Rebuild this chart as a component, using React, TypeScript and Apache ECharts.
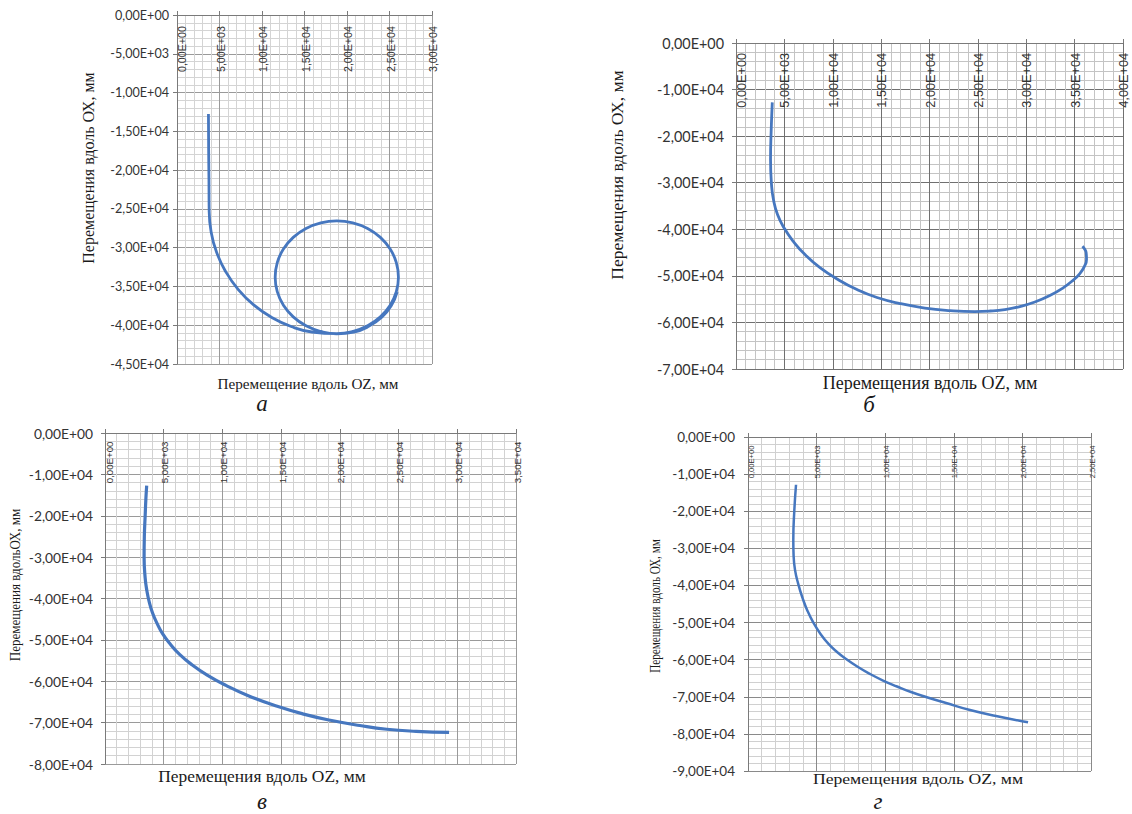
import React, { useEffect, useRef } from "react";
import * as echarts from "echarts";

// ---- Data: displacement along OZ (mm) and along OX (mm) ----
// (а) trajectory ending in a loop
const ozA = [3700, 3723, 3759, 3782, 4007, 4657, 5745, 7210, 9019, 11111, 13428, 15886, 18800,
  20678, 22425, 23926, 25079, 25804, 26050, 25804, 25079, 23926, 22425, 20678, 18800, 16922, 15175, 13674, 12521, 11796, 11550, 11796, 12521, 13674, 15175, 16922,
  18800, 20800, 22550, 24050, 25200, 25900];
const oxA = [-12761, -17402, -21269, -25136, -27920, -30601, -33127, -35408, -37381, -38980, -40165, -40874, -41080,
  -40804, -40079, -38926, -37425, -35678, -33800, -31922, -30175, -28674, -27521, -26796, -26550, -26796, -27521, -28674, -30175, -31922, -33800, -35678, -37425, -38926, -40079, -40804,
  -41100, -40880, -40150, -39000, -37500, -35700];

// (б)
const ozB = [3750, 3640, 3570, 3670, 3870, 4290, 5010, 5940, 7130, 8680, 10540, 12500, 14570, 16940, 19520, 22110, 24690,
  26240, 27790, 29340, 30890, 32440, 33780, 34810, 35540, 36000, 36230, 36190, 36030, 35810];
const oxB = [-12750, -18600, -25040, -30410, -33620, -36840, -39850, -42640, -45430, -48220, -50790, -52940, -54650, -55940, -56910, -57450, -57660,
  -57550, -57230, -56590, -55620, -54230, -52620, -51010, -49510, -48010, -46500, -45000, -44250, -43650];

// (в)
const ozC = [3550, 3480, 3420, 3350, 3330, 3420, 3560, 3780, 4050, 4430, 4900, 5550, 6350, 7400, 8700, 10300, 12200, 14600, 17000, 19300, 21700, 24000, 26500, 29300];
const oxC = [-12700, -16000, -20000, -25000, -30000, -35000, -38000, -41000, -43500, -46000, -48500, -51000, -53500, -56000, -58500, -61000, -63500, -66000, -68000, -69500, -70700, -71600, -72100, -72350];

// (г)
const ozD = [3500, 3375, 3302, 3324, 3426, 3660, 3973, 4338, 4775, 5285, 5868, 6488, 7181, 8019, 8894, 9842, 10862, 11883, 12976, 14434, 16184, 18079, 20412];
const oxD = [-12870, -19880, -27710, -32030, -35800, -39580, -43360, -46870, -50100, -53070, -55770, -57930, -59900, -61980, -63860, -65620, -67230, -68720, -70070, -71690, -73580, -75190, -76890];

// Axis extents and tick labels (OZ axis, shown at the top)
const xTicksA = [0, 5000, 10000, 15000, 20000, 25000, 30000];
const xTicksB = [0, 5000, 10000, 15000, 20000, 25000, 30000, 35000, 40000];
const xTicksC = [0, 5000, 10000, 15000, 20000, 25000, 30000, 35000];
const xTicksD = [0, 5000, 10000, 15000, 20000, 25000];
const yMins = [-45000, -70000, -80000, -90000];
const yIntervals = [5000, 10000, 10000, 10000];

const xTitles = ["Перемещение вдоль OZ, мм", "Перемещения вдоль OZ, мм", "Перемещения вдоль OZ, мм", "Перемещения вдоль OZ, мм"];
const yTitles = ["Перемещения вдоль ОХ, мм", "Перемещения вдоль ОХ, мм", "Перемещения вдольОХ, мм", "Перемещения вдоль ОХ, мм"];
const panelLetters = ["а", "б", "в", "г"];

function fmtE(v: number): string {
  if (v === 0) return "0,00E+00";
  const s = v.toExponential(2);
  const [m, e] = s.split("e");
  const sign = e[0] === "-" ? "-" : "+";
  const ex = Math.abs(parseInt(e, 10)).toString().padStart(2, "0");
  return m.replace(".", ",") + "E" + sign + ex;
}

const zip = (a: number[], b: number[]) => a.map((v, i) => [v, b[i]]);

export default function App() {
  const ref = useRef<HTMLDivElement>(null);
  useEffect(() => {
    if (!ref.current) return;
    const chart = echarts.init(ref.current, undefined, { renderer: "svg" });

    const grids = [
      { left: 177, top: 15, width: 255, height: 349 },
      { left: 736, top: 43, width: 387, height: 326 },
      { left: 105, top: 433, width: 411, height: 331 },
      { left: 748, top: 437, width: 343, height: 334 },
    ];
    const xTicks = [xTicksA, xTicksB, xTicksC, xTicksD];
    const yLabelSize = [12.6, 14.4, 13.8, 13.5];
    const yLabelMargin = [8, 12, 12, 13];
    const xLabelSize = [10.7, 12.7, 9.7, 7.6];
    const xLabelMargin = [11, 10, 8.5, 8.5];
    const majorCol = ["#9a9a9a", "#707070", "#9a9a9a", "#8a8a8a"];
    const minorCol = ["#d4d4d4", "#c4c4c4", "#d2d2d2", "#d0d0d0"];
    const lineW = [2.8, 2.8, 3.2, 2.5];
    const dataSets = [zip(ozA, oxA), zip(ozB, oxB), zip(ozC, oxC), zip(ozD, oxD)];

    const txt = (x: number, y: number, text: string, font: string, extra: any = {}, va = "middle", al = "center", fill = "#1a1a1a") => ({
      type: "text",
      x,
      y,
      ...extra,
      style: { text, font, fill, align: al, verticalAlign: va },
    });

    const option: any = {
      animation: false,
      backgroundColor: "#ffffff",
      grid: grids.map((g) => ({ ...g, containLabel: false, outerBoundsMode: "none" })),
      xAxis: grids.map((_, i) => {
        const t = xTicks[i];
        return {
          type: "value",
          gridIndex: i,
          position: "top",
          min: t[0],
          max: t[t.length - 1],
          interval: t[1] - t[0],
          axisLine: { show: true, onZero: false, lineStyle: { color: "#7a7a7a", width: 1 } },
          axisTick: { show: true, inside: false, length: 4, lineStyle: { color: "#7a7a7a" } },
          axisLabel: { show: false },
          splitLine: { show: true, lineStyle: { color: majorCol[i], width: 1 } },
          minorTick: { show: false, splitNumber: 5 },
          minorSplitLine: { show: true, lineStyle: { color: minorCol[i], width: 1 } },
        };
      }),
      yAxis: grids.map((_, i) => ({
        type: "value",
        gridIndex: i,
        min: yMins[i],
        max: 0,
        interval: yIntervals[i],
        axisLine: { show: true, onZero: false, lineStyle: { color: "#7a7a7a", width: 1 } },
        axisTick: { show: true, inside: false, length: 4, lineStyle: { color: "#7a7a7a" } },
        axisLabel: {
          margin: yLabelMargin[i],
          formatter: fmtE,
          fontFamily: "Lato",
          fontSize: yLabelSize[i],
          color: "#333",
        },
        splitLine: { show: true, lineStyle: { color: majorCol[i], width: 1 } },
        minorTick: { show: false, splitNumber: 5 },
        minorSplitLine: { show: true, lineStyle: { color: minorCol[i], width: 1 } },
      })),
      series: dataSets.map((d, i) => ({
        type: "line",
        xAxisIndex: i,
        yAxisIndex: i,
        data: d,
        showSymbol: false,
        smooth: 0.5,
        lineStyle: { color: "#4677bf", width: lineW[i] },
        z: 5,
      })),
    };
    chart.setOption(option);

    // Rotated OZ tick labels inside the plot, positioned through the axis scale
    const tickLabels: any[] = [];
    xTicks.forEach((ticks, i) => {
      ticks.forEach((v, k) => {
        const px = chart.convertToPixel({ xAxisIndex: i } as any, v) as number;
        const shift = k === 0 ? xLabelSize[i] * 0.45 : 1;
        tickLabels.push(
          txt(px + shift, grids[i].top + xLabelMargin[i], fmtE(v), `${xLabelSize[i]}px "Liberation Sans"`,
            { rotation: Math.PI / 2, z: 10 }, "middle", "right", "#333")
        );
      });
    });

    const titles = [
      // y titles
      txt(88, 168, yTitles[0], '16px "Liberation Serif"', { rotation: Math.PI / 2 }),
      txt(617, 175, yTitles[1], '17.5px "Liberation Serif"', { rotation: Math.PI / 2 }),
      txt(15, 585, yTitles[2], '14px "Liberation Serif"', { rotation: Math.PI / 2, scaleX: 0.93 }),
      txt(656, 606, yTitles[3], '14px "Liberation Serif"', { rotation: Math.PI / 2, scaleX: 0.8 }),
      // x titles
      txt(308, 383, xTitles[0], '15.2px "Liberation Serif"'),
      txt(930, 383, xTitles[1], '18px "Liberation Serif"'),
      txt(262, 776, xTitles[2], '17.4px "Liberation Serif"'),
      txt(918, 779, xTitles[3], '14px "Liberation Serif"', { scaleX: 1.26 }),
      // panel letters
      txt(262, 415, panelLetters[0], 'italic 23px "Liberation Serif"', {}, "bottom"),
      txt(869, 416, panelLetters[1], 'italic 23px "Liberation Serif"', {}, "bottom"),
      txt(262, 813, panelLetters[2], 'italic 23px "Liberation Serif"', {}, "bottom"),
      txt(878, 813, panelLetters[3], 'italic 23px "Liberation Serif"', {}, "bottom"),
    ];

    chart.setOption({ graphic: [...titles, ...tickLabels] });
    return () => chart.dispose();
  }, []);

  return (
    <div
      ref={ref}
      style={{ position: "fixed", left: 0, top: 0, width: 1132, height: 814, background: "#fff" }}
    />
  );
}
